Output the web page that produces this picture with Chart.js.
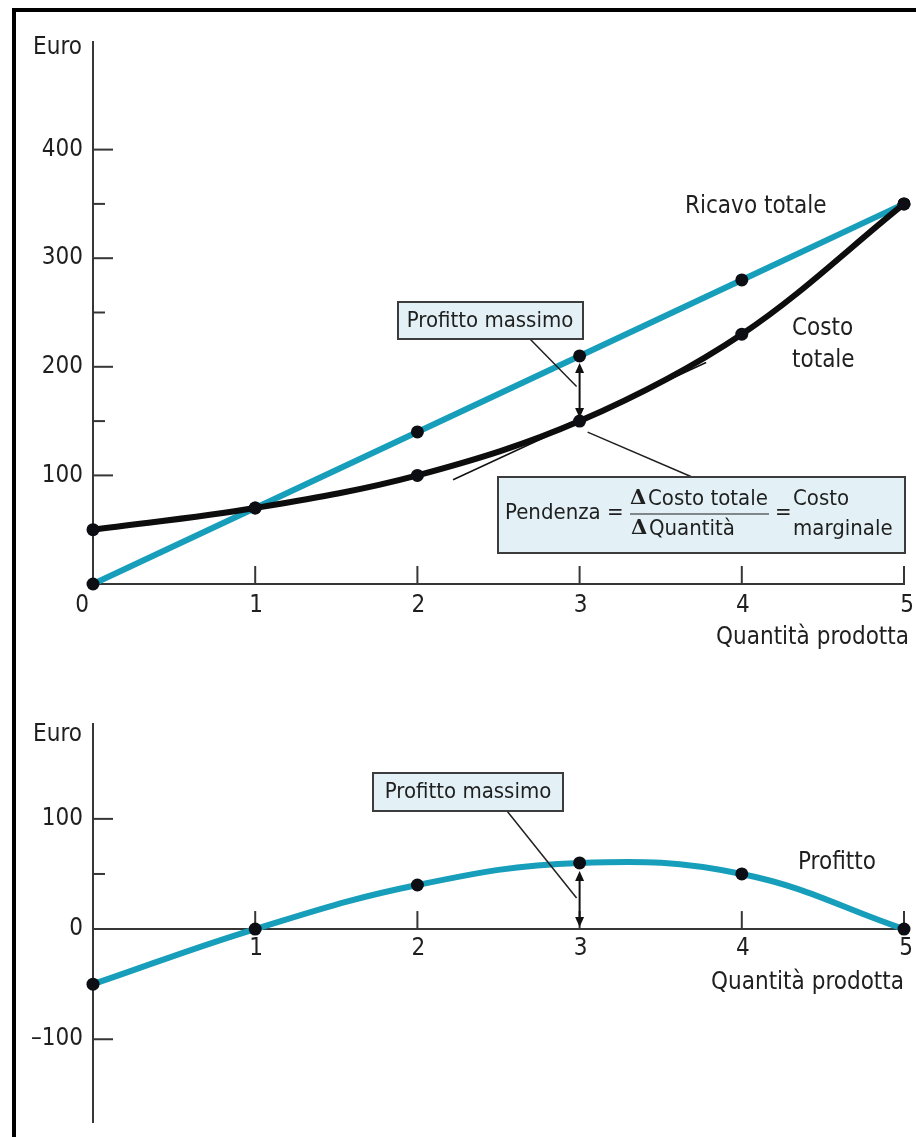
<!DOCTYPE html>
<html>
<head>
<meta charset="utf-8">
<script src="https://cdn.jsdelivr.net/npm/chart.js@4.4.1/dist/chart.umd.min.js"></script>
<style>
  html, body { margin: 0; padding: 0; background: #fff; }
  body { width: 916px; height: 1137px; position: relative; overflow: hidden; }
  #frame { position: absolute; left: 12px; top: 8px; width: 940px; height: 1180px;
           border-left: 4px solid #000; border-top: 4px solid #000; box-sizing: border-box; }
  canvas { position: absolute; left: 0; }
  #costChart { top: 0; }
  #profitChart { top: 690px; }
</style>
</head>
<body>
<div id="frame"></div>
<canvas id="costChart" width="916" height="690"></canvas>
<canvas id="profitChart" width="916" height="447"></canvas>
<script>
// Quantità prodotta (unità) e valori in euro
const quantities   = [0, 1, 2, 3, 4, 5];
const totalRevenue = [0, 70, 140, 210, 280, 350];
const totalCost    = [50, 70, 100, 150, 230, 350];
const profit       = [-50, 0, 40, 60, 50, 0];

// Retta tangente al costo totale nel punto di profitto massimo
const tangentQ    = [2.22, 3.78];
const tangentCost = [96, 204];

// Tacche degli assi
const xTickLabels      = ['0', '1', '2', '3', '4', '5'];
const topMajorTicks    = [100, 200, 300, 400];
const topMinorTicks    = [50, 150, 250, 350];
const bottomMajorTicks = [100, -100];
const bottomMinorTicks = [50];
const bottomTickLabels = ['100', '0', '–100'];
const bottomTickValues = [100, 0, -100];

const maxProfitIndex = 3;

const TEAL = '#179eba';
const INK = '#1f1f1f';
const AXIS = '#363636';
const BOX_FILL = '#e3f1f6';
const FAMILY = "'DejaVu Sans Condensed', 'Liberation Sans Narrow', 'DejaVu Sans', sans-serif";
const font = (s) => s + 'px ' + FAMILY;

function txt(ctx, s, x, y, align, size) {
  ctx.save();
  ctx.font = font(size || 24);
  ctx.fillStyle = INK;
  ctx.textAlign = align || 'left';
  ctx.textBaseline = 'middle';
  ctx.fillText(s, x, y);
  ctx.restore();
}

function line(ctx, x1, y1, x2, y2, w, c) {
  ctx.save();
  ctx.strokeStyle = c || INK;
  ctx.lineWidth = w || 1.5;
  ctx.beginPath();
  ctx.moveTo(x1, y1);
  ctx.lineTo(x2, y2);
  ctx.stroke();
  ctx.restore();
}

function box(ctx, x, y, w, h) {
  ctx.save();
  ctx.fillStyle = BOX_FILL;
  ctx.strokeStyle = '#3c3c3c';
  ctx.lineWidth = 2;
  ctx.fillRect(x, y, w, h);
  ctx.strokeRect(x, y, w, h);
  ctx.restore();
}

function arrowHead(ctx, x, y, dir) {
  ctx.beginPath();
  ctx.moveTo(x, y);
  ctx.lineTo(x - 4.5, y - dir * 10);
  ctx.lineTo(x + 4.5, y - dir * 10);
  ctx.closePath();
  ctx.fill();
}

// Freccia doppia verticale tra due valori in euro
function doubleArrow(ctx, x, yTop, yBottom) {
  ctx.save();
  ctx.strokeStyle = '#111';
  ctx.fillStyle = '#111';
  ctx.lineWidth = 2;
  ctx.beginPath();
  ctx.moveTo(x, yTop + 4);
  ctx.lineTo(x, yBottom - 4);
  ctx.stroke();
  arrowHead(ctx, x, yTop, -1);
  arrowHead(ctx, x, yBottom, 1);
  ctx.restore();
}

function drawAxes(chart, majors, minors, yBottomValue) {
  const ctx = chart.ctx;
  const xs = chart.scales.x, ys = chart.scales.y;
  const x0 = xs.getPixelForValue(0);
  const y0 = ys.getPixelForValue(0);
  const yEnd = ys.getPixelForValue(yBottomValue);
  // asse verticale
  line(ctx, x0, chart.chartArea.top, x0, yEnd, 2, AXIS);
  // asse orizzontale
  line(ctx, x0, y0, xs.getPixelForValue(5) + 1, y0, 2, AXIS);
  majors.forEach(v => { const y = ys.getPixelForValue(v); line(ctx, x0, y, x0 + 20, y, 2, AXIS); });
  minors.forEach(v => { const y = ys.getPixelForValue(v); line(ctx, x0, y, x0 + 12, y, 2, AXIS); });
  quantities.slice(1).forEach(q => {
    const x = xs.getPixelForValue(q);
    line(ctx, x, y0, x, y0 - 18, 2, AXIS);
  });
}

const costAxesPlugin = {
  id: 'costAxes',
  beforeDatasetsDraw(chart) {
    const ctx = chart.ctx;
    const xs = chart.scales.x, ys = chart.scales.y;
    drawAxes(chart, topMajorTicks, topMinorTicks, 0);
    const x0 = xs.getPixelForValue(0);
    txt(ctx, 'Euro', x0 - 11, 48, 'right');
    topMajorTicks.forEach(v => txt(ctx, String(v), x0 - 10, ys.getPixelForValue(v), 'right'));
    const yl = ys.getPixelForValue(0) + 22;
    xTickLabels.forEach((s, i) => {
      const dx = i === 0 ? -11 : (i === 5 ? 3 : 1);
      txt(ctx, s, xs.getPixelForValue(quantities[i]) + dx, yl, 'center');
    });
    txt(ctx, 'Quantità prodotta', xs.getPixelForValue(5) + 5, yl + 32, 'right');
  },
  afterDatasetsDraw(chart) {
    const ctx = chart.ctx;
    const xs = chart.scales.x, ys = chart.scales.y;
    const xq = xs.getPixelForValue(quantities[maxProfitIndex]);
    const yR = ys.getPixelForValue(totalRevenue[maxProfitIndex]);
    const yC = ys.getPixelForValue(totalCost[maxProfitIndex]);
    doubleArrow(ctx, xq, yR + 7, yC - 3);

    // riquadro "Profitto massimo"
    line(ctx, 530, 339, xq - 3, (yR + yC) / 2 - 2, 1.5);
    box(ctx, 398, 302, 185, 37);
    txt(ctx, 'Profitto massimo', 490, 321, 'center', 22);

    // riquadro della pendenza
    line(ctx, xq + 8, yC + 11, 692, 477, 1.5);
    box(ctx, 498, 477, 407, 76);
    txt(ctx, 'Pendenza =', 505, 513, 'left', 22);
    ctx.save();
    ctx.font = 'bold 21px "DejaVu Serif", "Liberation Serif", serif';
    ctx.fillStyle = INK;
    ctx.textBaseline = 'middle';
    ctx.fillText('Δ', 630, 499);
    ctx.fillText('Δ', 631, 529);
    ctx.restore();
    txt(ctx, 'Costo totale', 648, 499, 'left', 22);
    txt(ctx, 'Quantità', 649, 529, 'left', 22);
    line(ctx, 630, 514, 769, 514, 1.2);
    txt(ctx, '=', 775, 513, 'left', 22);
    txt(ctx, 'Costo', 793, 499, 'left', 22);
    txt(ctx, 'marginale', 793, 529, 'left', 22);

    // etichette delle curve
    txt(ctx, 'Ricavo totale', 685, 207, 'left');
    txt(ctx, 'Costo', 792, 329, 'left');
    txt(ctx, 'totale', 792, 361, 'left');
  }
};

const profitAxesPlugin = {
  id: 'profitAxes',
  beforeDatasetsDraw(chart) {
    const ctx = chart.ctx;
    const xs = chart.scales.x, ys = chart.scales.y;
    drawAxes(chart, bottomMajorTicks, bottomMinorTicks, ys.min);
    const x0 = xs.getPixelForValue(0);
    txt(ctx, 'Euro', x0 - 11, 45, 'right');
    bottomTickValues.forEach((v, i) => txt(ctx, bottomTickLabels[i], x0 - 10, ys.getPixelForValue(v), 'right'));
    const yl = ys.getPixelForValue(0) + 20;
    xTickLabels.slice(1).forEach((s, i) => {
      const dx = i === 4 ? 2 : 1;
      txt(ctx, s, xs.getPixelForValue(quantities[i + 1]) + dx, yl, 'center');
    });
    txt(ctx, 'Quantità prodotta', xs.getPixelForValue(5), yl + 34, 'right');
  },
  afterDatasetsDraw(chart) {
    const ctx = chart.ctx;
    const xs = chart.scales.x, ys = chart.scales.y;
    const xq = xs.getPixelForValue(quantities[maxProfitIndex]);
    const yP = ys.getPixelForValue(profit[maxProfitIndex]);
    const y0 = ys.getPixelForValue(0);
    doubleArrow(ctx, xq, yP + 8, y0 - 2);

    line(ctx, 507, 121, xq - 3, (yP + y0) / 2 + 2, 1.5);
    box(ctx, 373, 83, 190, 38);
    txt(ctx, 'Profitto massimo', 468, 102, 'center', 22);

    txt(ctx, 'Profitto', 798, 173, 'left');
  }
};

const points = (ys) => quantities.map((q, i) => ({ x: q, y: ys[i] }));
const dotStyle = { pointRadius: 6.5, pointBackgroundColor: '#0d0d14', pointBorderWidth: 0, pointHoverRadius: 6.5 };

new Chart(document.getElementById('costChart'), {
  type: 'line',
  data: {
    datasets: [
      Object.assign({ label: 'Ricavo totale', data: points(totalRevenue), borderColor: TEAL,
        borderWidth: 6, tension: 0, clip: false, order: 2 }, dotStyle),
      Object.assign({ label: 'Costo totale', data: points(totalCost), borderColor: '#0d0d0d',
        borderWidth: 6, tension: 0.35, clip: false, order: 1 }, dotStyle),
      { label: 'Tangente', data: tangentQ.map((q, i) => ({ x: q, y: tangentCost[i] })),
        borderColor: '#111', borderWidth: 1.5, pointRadius: 0, clip: false, order: 3 }
    ]
  },
  options: {
    responsive: false, animation: false, events: [],
    layout: { padding: { left: 93, right: 12, top: 41, bottom: 106 } },
    scales: {
      x: { type: 'linear', min: 0, max: 5, display: false },
      y: { type: 'linear', min: 0, max: 500, display: false }
    },
    plugins: { legend: { display: false }, tooltip: { enabled: false } }
  },
  plugins: [costAxesPlugin]
});

new Chart(document.getElementById('profitChart'), {
  type: 'line',
  data: {
    datasets: [
      Object.assign({ label: 'Profitto', data: points(profit), borderColor: TEAL,
        borderWidth: 6, tension: 0.4, clip: false }, dotStyle)
    ]
  },
  options: {
    responsive: false, animation: false, events: [],
    layout: { padding: { left: 93, right: 12, top: 33, bottom: 14 } },
    scales: {
      x: { type: 'linear', min: 0, max: 5, display: false },
      y: { type: 'linear', min: -176, max: 187, display: false }
    },
    plugins: { legend: { display: false }, tooltip: { enabled: false } }
  },
  plugins: [profitAxesPlugin]
});
</script>
</body>
</html>
